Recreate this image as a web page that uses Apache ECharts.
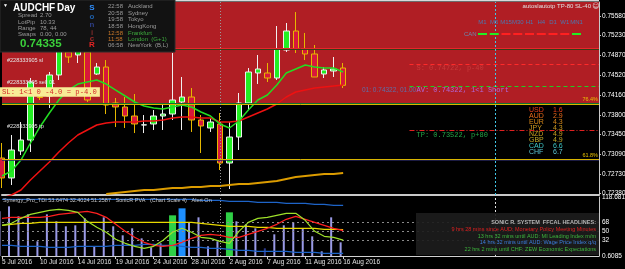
<!DOCTYPE html>
<html>
<head>
<meta charset="utf-8">
<script src="https://cdn.jsdelivr.net/npm/echarts@6.0.0/dist/echarts.min.js"></script>
<style>
html,body{margin:0;padding:0;background:#000;overflow:hidden;}
#chart{width:625px;height:269px;}
</style>
</head>
<body>
<div id="chart"></div>
<script>
// ---------- data ----------
const dates = ['5 Jul 2016','6 Jul 2016','7 Jul 2016','8 Jul 2016','10 Jul 2016','11 Jul 2016','12 Jul 2016','13 Jul 2016','14 Jul 2016','15 Jul 2016','17 Jul 2016','18 Jul 2016','19 Jul 2016','20 Jul 2016','21 Jul 2016','22 Jul 2016','24 Jul 2016','25 Jul 2016','26 Jul 2016','27 Jul 2016','28 Jul 2016','29 Jul 2016','31 Jul 2016','1 Aug 2016','2 Aug 2016','3 Aug 2016','4 Aug 2016','5 Aug 2016','7 Aug 2016','8 Aug 2016','9 Aug 2016','10 Aug 2016','11 Aug 2016','12 Aug 2016','14 Aug 2016','15 Aug 2016','16 Aug 2016'];
const futureSlots = 27;

const open  = [0.73023,0.72663,0.73150,0.73348,0.74124,0.74142,0.74521,0.74936,0.74882,0.74936,0.74539,0.74665,0.74016,0.73944,0.73781,0.73619,0.73637,0.73781,0.73817,0.74034,0.74124,0.73709,0.73565,0.73637,0.72933,0.73402,0.74016,0.74557,0.74557,0.74467,0.74972,0.75315,0.74990,0.74900,0.74539,0.74593,0.74647];
const close = [0.72663,0.73168,0.73348,0.74395,0.74115,0.74521,0.75062,0.74846,0.74954,0.74070,0.74665,0.73980,0.73944,0.73781,0.73637,0.73622,0.73781,0.73817,0.74070,0.74124,0.73709,0.73601,0.73673,0.72933,0.73402,0.74016,0.74575,0.74629,0.74467,0.74990,0.75315,0.74990,0.74900,0.74485,0.74611,0.74629,0.74335];
const high  = [0.73294,0.73438,0.73673,0.74467,0.74160,0.74575,0.75152,0.75062,0.75026,0.74972,0.74737,0.74791,0.74106,0.74124,0.74178,0.73799,0.73889,0.74016,0.74918,0.74485,0.74286,0.73799,0.73745,0.73835,0.73673,0.74196,0.74647,0.74882,0.74737,0.75405,0.75459,0.75657,0.75279,0.75062,0.74665,0.74846,0.74737];
const low   = [0.72482,0.72536,0.73078,0.73132,0.74070,0.73925,0.74431,0.74737,0.74737,0.74034,0.74521,0.73817,0.73583,0.73565,0.73474,0.73474,0.73529,0.73529,0.73709,0.73529,0.73493,0.73114,0.73493,0.72807,0.72464,0.73168,0.73889,0.74359,0.74395,0.74431,0.74936,0.74918,0.74791,0.74485,0.74467,0.74485,0.74286];

const maFast = [0.72699,0.72789,0.72987,0.73294,0.73583,0.73835,0.74070,0.74250,0.74358,0.74395,0.74431,0.74358,0.74250,0.74142,0.74034,0.73962,0.73926,0.73907,0.73944,0.73980,0.73944,0.73853,0.73781,0.73637,0.73565,0.73691,0.73889,0.74070,0.74160,0.74340,0.74557,0.74629,0.74701,0.74665,0.74647,0.74647,0.74575];
const maSlow = [0.72302,0.72356,0.72446,0.72627,0.72789,0.72951,0.73132,0.73294,0.73438,0.73529,0.73619,0.73655,0.73673,0.73673,0.73673,0.73691,0.73691,0.73709,0.73745,0.73763,0.73763,0.73745,0.73745,0.73673,0.73673,0.73691,0.73763,0.73835,0.73907,0.73998,0.74124,0.74214,0.74250,0.74286,0.74304,0.74322,0.74340];
const maLong = [null,null,null,null,null,null,null,null,null,null,null,0.72374,0.72392,0.72410,0.72428,0.72446,0.72446,0.72464,0.72482,0.72482,0.72500,0.72500,0.72518,0.72518,0.72536,0.72554,0.72554,0.72572,0.72590,0.72608,0.72645,0.72681,0.72699,0.72717,0.72735,0.72735,0.72753];

const priceTicks = [0.72380,0.72730,0.73090,0.73450,0.73800,0.74160,0.74520,0.74870,0.75230,0.75580];
const priceMin = 0.72356, priceMax = 0.75838;
const bidPrice = 0.74335;
const slPrice = 0.74722, avPrice = 0.74322, tpPrice = 0.73522;
const fib764 = 0.73980, fib618 = 0.72771;
const otherLevels = [0.75477, 0.74990, 0.74503, 0.73023, 0.72500];
const orderTexts = ['#228333905 sl', '#228333905 sell 01', '#228333905 tp'];

// indicator (TDI + PVA)
const tdiPrice  = [62,66,76,84,88,92,94,92,88,70,58,48,34,26,20,16,20,32,48,56,48,38,36,30,26,50,68,76,78,82,86,86,72,50,40,38,32.4];
const tdiSignal = [76,78,78,78,78,80,84,86,88,90,86,78,64,50,38,28,22,20,22,28,36,42,44,42,38,38,44,50,56,64,74,80,74,68,62,56,51.3];
const tdiBase   = [62,64,66,66,68,68,68,68,68,68,68,68,68,68,68,68,68,68,68,68,68,66,64,62,60,60,60,58,58,56,56,56,56,56,54,54,53.6];
const tdiUpper  = [114,114,114,114,114,114,114,114,114,114,114,114,114,114,114,114,114,114,114,114,114,112,112,112,110,110,110,108,108,108,106,106,106,104,104,102,102];
const tdiLower  = [22,22,20,20,20,18,18,18,20,20,20,20,22,22,22,24,24,22,22,20,18,18,16,16,14,12,12,10,10,10,10,8,8,8,6,6,6];
const volume    = [90,100,80,84,30,84,70,60,62,76,20,78,60,42,56,36,18,26,82,96,68,78,20,30,88,70,64,56,16,44,62,68,56,40,10,78,28];
const volType   = ['n','n','n','n','n','n','n','n','n','n','n','n','n','n','n','n','n','n','g','b','n','n','n','n','g','n','n','n','d','n','n','n','n','n','n','n','n'];
const indTicks = [0.6085, 32, 50, 68, 118.6813];
const indMin = 0.6085, indMax = 118.6813;

const infoLabels = ['Spread','LotPip','Range','Swaps'];
const infoValues = ['2.70','10.33','78, 44','0.00, 0.00'];
const sessionTimes = ['22:58','20:58','19:58','18:58','12:58','11:58','06:58'];
const sessionNames = ['Auckland','Sydney','Tokyo','HongKong','Frankfurt','London  (G+1)','NewYork  (B,L)'];
const timeframes = ['M1','M5','M15','M30','H1','H4','D1','W1','MN1'];
const tfSignal = ['up','up','dn','dn','dn','dn','dn','dn','up'];
const ccyNames = ['USD','AUD','EUR','JPY','NZD','GBP','CAD','CHF'];
const ccyValues = ['1.6','2.9','4.3','4.3','4.9','4.9','6.6','6.7'];
const newsLines = [
  'SONIC R. SYSTEM  FFCAL HEADLINES:',
  '9 hrs 28 mins since AUD: Monetary Policy Meeting Minutes',
  '13 hrs 32 mins until AUD: MI Leading Index m/m',
  '14 hrs 32 mins until AUD: Wage Price Index q/q',
  '22 hrs 2 mins until CHF: ZEW Economic Expectations'
];

// ---------- build ----------
const categories = dates.concat(new Array(futureSlots).fill(''));
const candles = dates.map((d, i) => [open[i], close[i], low[i], high[i]]);
const volColors = {n: '#9a9ae6', g: '#2fd046', b: '#1e8fff', d: '#2c3a8e'};
const volThin = volume.map((v, i) => (volType[i] === 'n' || volType[i] === 'd') ? {value: v, itemStyle: {color: volColors[volType[i]]}} : null);
const volWide = volume.map((v, i) => (volType[i] === 'g' || volType[i] === 'b') ? {value: v, itemStyle: {color: volColors[volType[i]]}} : null);

const F = 'Liberation Sans';
const M = 'Liberation Mono';
const g = [];
function T(x, y, text, fill, size, extra) {
  g.push({type: 'text', x: x, y: y, z: 100, silent: true,
    style: Object.assign({text: text, fill: fill, fontSize: size, fontFamily: F, align: 'left', verticalAlign: 'middle'}, extra || {})});
}
function R(x, y, w, h, fill, stroke, z) {
  g.push({type: 'rect', z: z || 99, silent: true, shape: {x: x, y: y, width: w, height: h},
    style: {fill: fill, stroke: stroke || null, lineWidth: 1}});
}
// top frame line
R(0, 0, 599, 1.5, '#d8d8d8', null, 98);
// info panel
R(0, 0, 175, 52, '#121212', '#2c2c2c');
T(3, 6, '\u25BC', '#ffffff', 5);
T(13, 8, 'AUDCHF', '#ffffff', 10, {fontWeight: 'bold'});
T(57, 8, 'Day', '#ffffff', 10, {fontWeight: 'bold'});
const infoY = [15.7, 22.3, 28.5, 34.2];
infoLabels.forEach((l, i) => { T(18, infoY[i], l, '#9c9c9c', 6); T(40, infoY[i], infoValues[i], '#9c9c9c', 6); });
T(20, 43.5, '0.74335', '#3bd13b', 11.5, {fontWeight: 'bold'});
const sonic = [['S', '#2f8fff', 7.5], ['o', '#1f5fa8', 16.5], ['n', '#2e3f86', 25], ['i', '#7a2a2a', 33], ['c', '#a02a2a', 39], ['R', '#e42424', 45]];
sonic.forEach(s => T(92, s[2], s[0], s[1], 8, {fontWeight: 'bold', align: 'center'}));
const sessY = [6.7, 13.3, 19.7, 26.3, 33, 39.3, 45.7];
sessionTimes.forEach((t, i) => {
  const hot = (i === 4 || i === 5);
  T(108, sessY[i], t, hot ? '#c8782a' : '#9c9c9c', 6);
  T(128, sessY[i], sessionNames[i], hot ? '#3daa3d' : '#9c9c9c', 6);
});
// top right texts
T(591, 6, 'autoslautotp TP-80 SL-40', '#e0e0e0', 6, {align: 'right'});
T(596, 6, '\u263A', '#e0e0e0', 7, {align: 'center', fontFamily: 'DejaVu Sans'});
timeframes.forEach((tf, i) => {
  const cx = 482.5 + i * 11.75;
  T(cx, 22, tf, '#4a78b0', 6, {align: 'center'});
  R(cx - 4.5, 33, 9, 2, tfSignal[i] === 'up' ? '#22ee22' : '#ff2020', null, 100);
});
T(464, 34, 'CAN', '#6a8ab0', 6);
T(362, 90, '01: 0.74322, 01.00', '#5f6fa8', 6.5);
// SL box
T(0, 92, 'SL: 1<1 0 -4.0 = p-4.0', '#d42a2a', 7.2, {fontFamily: M, backgroundColor: '#f8ec96', padding: [1.5, 3, 1, 2]});
// currency strength
const ccyColors = ['#ea401a', '#ea6c1a', '#d98a1a', '#d09a20', '#c8a020', '#c0a828', '#3ec6c6', '#5ec8d8'];
ccyNames.forEach((c, i) => { const y = 110 + i * 5.95; T(529, y, c, ccyColors[i], 7); T(553, y, ccyValues[i], ccyColors[i], 7); });
// indicator title
T(3, 200.5, 'Synergy_Pro_TDI 53.6474 32.4024 51.2587   SonicR PVA   (Chart Scale 4)   Alert On', '#c8c8c8', 5.5);
// headlines
R(416, 213, 183, 42, 'rgba(28,28,28,0.92)', null, 99);
const newsColors = ['#b4b4b4', '#e02020', '#3db83d', '#3d7fe0', '#3db83d'];
const newsY = [222, 229, 236, 242, 249];
newsLines.forEach((t, i) => T(596, newsY[i], t, newsColors[i], 5.5, {align: 'right', fontWeight: i === 0 ? 'bold' : 'normal'}));

const hLine = (v, color, width, type, extra) => Object.assign({yAxis: v, lineStyle: {color: color, width: width, type: type || 'solid'}, label: {show: false}}, extra || {});
const segLine = (v, color, width, type, labelText, labelColor) => [
  {coord: [43, v], lineStyle: {color: color, width: width, type: type}, label: {show: true, position: 'insideStartBottom', formatter: labelText, color: labelColor, fontFamily: M, fontSize: 7, distance: 1, padding: [0, 0, 0, 6]}},
  {coord: [63, v]}
];

const otherColors = ['#284a14', '#6a1020', '#284a14', '#24245a', '#0d3a14'];
const levelLines = otherLevels.map((v, i) => hLine(v, otherColors[i], 1.5));
levelLines.push(hLine(slPrice, '#e8262a', 1));
levelLines.push(hLine(avPrice, '#a060d0', 1.5));
levelLines.push(hLine(tpPrice, '#12702e', 2));
levelLines.push(hLine(fib764, '#d8b400', 1, 'solid', {label: {show: true, position: 'insideEndTop', formatter: '76.4%', color: '#e8c000', fontSize: 5.5, distance: 1}}));
levelLines.push(hLine(fib618, '#d8b400', 1, 'solid', {label: {show: true, position: 'insideEndTop', formatter: '61.8%', color: '#e8c000', fontSize: 5.5, distance: 1}}));
levelLines.push(segLine(slPrice, '#ff2a2a', 1, [4, 3], 'S: 0.74722, p-40', '#c83a3a'));
levelLines.push(segLine(avPrice, '#22cc22', 1, [4, 3], 'AV: 0.74322, 1<1 Short', '#b266d8'));
levelLines.push(segLine(tpPrice, '#e02020', 1, [5, 2, 1, 2], 'TP: 0.73522, p+80', '#22a848'));
levelLines.push({xAxis: 23, lineStyle: {color: '#9a9a9a', width: 1, type: [1, 2]}, label: {show: false}});
levelLines.push({xAxis: 52, lineStyle: {color: '#40c8e8', width: 1, type: [2, 2]}, label: {show: false}});
levelLines.push({yAxis: bidPrice, lineStyle: {opacity: 0, width: 0}, label: {show: true, position: 'end', formatter: '0.74335', color: '#000', backgroundColor: '#ffffff', fontSize: 6.5, fontFamily: F, padding: [1, 2, 0.5, 2], distance: 1}});

const option = {
  backgroundColor: '#000000',
  animation: false,
  textStyle: {fontFamily: F},
  grid: [
    {left: 2, right: 26, top: 2, height: 193, outerBoundsMode: 'none', containLabel: false},
    {left: 2, right: 26, top: 197, height: 59, outerBoundsMode: 'none', containLabel: false}
  ],
  xAxis: [
    {type: 'category', gridIndex: 0, data: categories, boundaryGap: false,
      axisLine: {show: true, lineStyle: {color: '#c8c8c8', width: 2}}, axisTick: {show: false}, axisLabel: {show: false}, splitLine: {show: false}},
    {type: 'category', gridIndex: 1, data: categories, boundaryGap: false,
      axisLine: {show: true, lineStyle: {color: '#d0d0d0', width: 1}},
      axisTick: {show: true, interval: (i, v) => i % 4 === 0 && v !== '', length: 3, lineStyle: {color: '#d0d0d0'}},
      axisLabel: {show: true, interval: 3, align: 'left', color: '#e0e0e0', fontSize: 6.5, margin: 3, hideOverlap: false},
      splitLine: {show: false}}
  ],
  yAxis: [
    {type: 'value', gridIndex: 0, position: 'right', min: priceMin, max: priceMax, scale: true,
      axisLine: {show: true, lineStyle: {color: '#c8c8c8', width: 1}},
      axisTick: {show: true, customValues: priceTicks, length: 2, lineStyle: {color: '#c8c8c8'}},
      axisLabel: {show: true, customValues: priceTicks, formatter: v => v.toFixed(5), color: '#ffffff', fontSize: 6.5, margin: 3, showMinLabel: true, showMaxLabel: true},
      splitLine: {show: false}},
    {type: 'value', gridIndex: 1, position: 'right', min: indMin, max: indMax,
      axisLine: {show: true, lineStyle: {color: '#c8c8c8', width: 1}},
      axisTick: {show: false},
      axisLabel: {show: true, customValues: indTicks, formatter: v => String(v), color: '#ffffff', fontSize: 6.5, margin: 3, showMinLabel: true, showMaxLabel: true},
      splitLine: {show: false}}
  ],
  series: [
    {name: 'levels', type: 'line', xAxisIndex: 0, yAxisIndex: 0, data: [], z: 1, silent: true,
      markArea: {silent: true, itemStyle: {color: '#b01e24'}, data: [[{yAxis: fib764}, {yAxis: priceMax}]]},
      markLine: {silent: true, symbol: 'none', animation: false, data: levelLines}},
    {name: 'AUDCHF', type: 'candlestick', xAxisIndex: 0, yAxisIndex: 0, data: candles, z: 3, barWidth: 6, clip: false,
      itemStyle: {color: '#22ee22', color0: '#d8183c', borderColor: '#f0f0f0', borderColor0: '#e6b800', borderWidth: 1}},
    {name: 'MA slow long', type: 'line', xAxisIndex: 0, yAxisIndex: 0, data: maLong, z: 4, symbol: 'none', lineStyle: {color: '#dc9c00', width: 2}},
    {name: 'MA slow', type: 'line', xAxisIndex: 0, yAxisIndex: 0, data: maSlow, z: 4, symbol: 'none', lineStyle: {color: '#ee1111', width: 1.5}},
    {name: 'MA fast', type: 'line', xAxisIndex: 0, yAxisIndex: 0, data: maFast, z: 4, symbol: 'none', lineStyle: {color: '#22dd22', width: 1.5}},

    {name: 'PVA', type: 'bar', xAxisIndex: 1, yAxisIndex: 1, data: volThin, barWidth: 2, barGap: '-100%', z: 2},
    {name: 'PVA climax', type: 'bar', xAxisIndex: 1, yAxisIndex: 1, data: volWide, barWidth: 7, barGap: '-100%', z: 2},
    {name: 'TDI upper', type: 'line', xAxisIndex: 1, yAxisIndex: 1, data: tdiUpper, symbol: 'none', z: 5, lineStyle: {color: '#1e64c8', width: 1.2}},
    {name: 'TDI lower', type: 'line', xAxisIndex: 1, yAxisIndex: 1, data: tdiLower, symbol: 'none', z: 5, lineStyle: {color: '#1e64c8', width: 1.2}},
    {name: 'TDI base', type: 'line', xAxisIndex: 1, yAxisIndex: 1, data: tdiBase, symbol: 'none', z: 5, lineStyle: {color: '#e8d800', width: 1.2},
      markLine: {silent: true, symbol: 'none', animation: false, label: {show: false},
        data: [
          {yAxis: 68, lineStyle: {color: '#8a8a8a', width: 1, type: [2, 3]}},
          {yAxis: 50, lineStyle: {color: '#8a8a8a', width: 1, type: [2, 3]}},
          {yAxis: 32, lineStyle: {color: '#8a8a8a', width: 1, type: [2, 3]}},
          {xAxis: 23, lineStyle: {color: '#9a9a9a', width: 1, type: [1, 2]}},
          {xAxis: 52, lineStyle: {color: '#e0e0e0', width: 1, type: [2, 2]}}
        ]}},
    {name: 'TDI signal', type: 'line', xAxisIndex: 1, yAxisIndex: 1, data: tdiSignal, symbol: 'none', z: 6, lineStyle: {color: '#ff2020', width: 1.2}},
    {name: 'TDI price', type: 'line', xAxisIndex: 1, yAxisIndex: 1, data: tdiPrice, symbol: 'none', z: 6, lineStyle: {color: '#9ee02a', width: 1.2}}
  ],
  graphic: {elements: g}
};

const chart = echarts.init(document.getElementById('chart'), null, {renderer: 'canvas'});
chart.setOption(option);

// order labels placed just above their price lines, through the price scale
const orderPrices = [slPrice, avPrice, tpPrice];
orderPrices.forEach((p, i) => {
  const y = chart.convertToPixel({yAxisIndex: 0}, p);
  T(7, y - 3.5, orderTexts[i], '#e6e6e6', 5.5);
});
// keep the yellow SL box above the order labels
const slBox = g.find(e => e.style && e.style.text && e.style.text.indexOf('SL: 1<1') === 0);
if (slBox) { slBox.z = 101; }
chart.setOption({graphic: {elements: g}});
</script>
</body>
</html>
